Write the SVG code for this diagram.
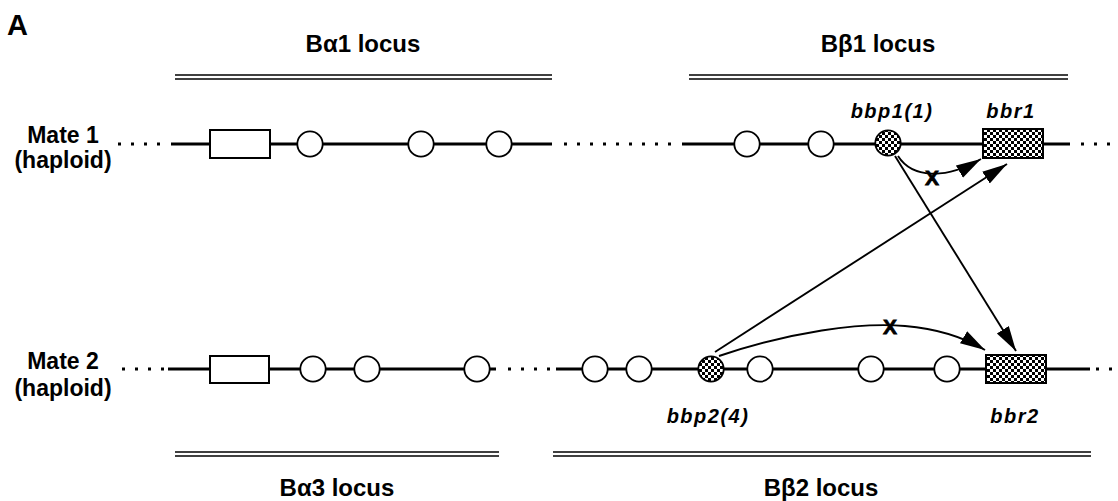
<svg xmlns="http://www.w3.org/2000/svg" width="1118" height="501" viewBox="0 0 1118 501">
<style>
text{font-family:"Liberation Sans",Arial,sans-serif;font-weight:bold;fill:#000}
.lab{font-size:23px;text-anchor:middle}
.loc{font-size:24px;text-anchor:middle}
.gene{font-size:20px;font-style:italic;letter-spacing:1.5px;text-anchor:middle}
.x{font-size:21px;text-anchor:middle;stroke:#000;stroke-width:0.8}
.chrom{stroke:#000;stroke-width:2.8;fill:none}
.dots{stroke:#000;stroke-width:3;stroke-dasharray:3 10;fill:none}
.dbl{stroke:#000;stroke-width:1.6;fill:none}
.box{fill:#fff;stroke:#000;stroke-width:2}
.cbox{fill:url(#chk);stroke:#000;stroke-width:2}
.circ{fill:#fff;stroke:#000;stroke-width:1.8}
.ccirc{fill:url(#chk);stroke:#000;stroke-width:1.8}
.arr{stroke:#000;stroke-width:1.9;fill:none;marker-end:url(#ah)}
</style>
<defs>
<pattern id="chk" width="6" height="6" patternUnits="userSpaceOnUse">
<rect width="6" height="6" fill="#fff"/>
<rect width="3" height="3" fill="#000"/>
<rect x="3" y="3" width="3" height="3" fill="#000"/>
</pattern>
<marker id="ah" markerUnits="userSpaceOnUse" markerWidth="28" markerHeight="16" refX="25" refY="7" orient="auto">
<path d="M0,0 L25,7 L0,14 Z" fill="#000"/>
</marker>
</defs>
<rect width="1118" height="501" fill="#fff"/>
<text x="7" y="35" style="font-size:29px">A</text>
<g id="locus-ba1">
<text class="loc" x="363" y="52">Bα1 locus</text>
<line class="dbl" x1="175" y1="75" x2="552" y2="75"/>
<line class="dbl" x1="175" y1="79" x2="552" y2="79"/>
</g>
<g id="locus-bb1">
<text class="loc" x="878" y="52">Bβ1 locus</text>
<line class="dbl" x1="689" y1="75" x2="1068" y2="75"/>
<line class="dbl" x1="689" y1="79" x2="1068" y2="79"/>
</g>
<g id="locus-ba3">
<line class="dbl" x1="175" y1="452" x2="499" y2="452"/>
<line class="dbl" x1="175" y1="456" x2="499" y2="456"/>
<text class="loc" x="337" y="496">Bα3 locus</text>
</g>
<g id="locus-bb2">
<line class="dbl" x1="553" y1="452" x2="1091" y2="452"/>
<line class="dbl" x1="553" y1="456" x2="1091" y2="456"/>
<text class="loc" x="821" y="496">Bβ2 locus</text>
</g>
<g id="mate1">
<text class="lab" x="63" y="143">Mate 1</text>
<text class="lab" x="63" y="168">(haploid)</text>
<line class="dots" x1="118" y1="144" x2="162" y2="144"/>
<line class="chrom" x1="171" y1="144" x2="552" y2="144"/>
<line class="dots" x1="564" y1="144" x2="676" y2="144"/>
<line class="chrom" x1="682" y1="144" x2="1070" y2="144"/>
<line class="dots" x1="1081" y1="144" x2="1118" y2="144"/>
<rect class="box" x="210" y="130" width="60" height="28"/>
<circle class="circ" cx="310" cy="144" r="12.7"/>
<circle class="circ" cx="421" cy="144" r="12.7"/>
<circle class="circ" cx="499" cy="144" r="12.7"/>
<circle class="circ" cx="747" cy="144" r="12.7"/>
<circle class="circ" cx="821" cy="144" r="12.7"/>
</g>
<g id="bbp1">
<circle class="ccirc" cx="888" cy="143" r="12.7"/>
<text class="gene" x="892" y="118">bbp1(1)</text>
</g>
<g id="bbr1">
<rect class="cbox" x="983" y="129" width="60" height="29"/>
<text class="gene" x="1011" y="118">bbr1</text>
</g>
<g id="mate2">
<text class="lab" x="63" y="369">Mate 2</text>
<text class="lab" x="63" y="396">(haploid)</text>
<line class="dots" x1="122" y1="369" x2="164" y2="369"/>
<line class="chrom" x1="168" y1="369" x2="496" y2="369"/>
<line class="dots" x1="508" y1="369" x2="553" y2="369"/>
<line class="chrom" x1="556" y1="369" x2="1090" y2="369"/>
<line class="dots" x1="1096" y1="369" x2="1118" y2="369"/>
<rect class="box" x="210" y="356" width="59" height="27"/>
<circle class="circ" cx="313" cy="369" r="12.7"/>
<circle class="circ" cx="367" cy="369" r="12.7"/>
<circle class="circ" cx="477" cy="369" r="12.7"/>
<circle class="circ" cx="595" cy="369" r="12.7"/>
<circle class="circ" cx="639" cy="369" r="12.7"/>
<circle class="circ" cx="760" cy="369" r="12.7"/>
<circle class="circ" cx="871" cy="369" r="12.7"/>
<circle class="circ" cx="947" cy="369" r="12.7"/>
</g>
<g id="bbp2">
<circle class="ccirc" cx="711" cy="369" r="12.7"/>
<text class="gene" x="708" y="423">bbp2(4)</text>
</g>
<g id="bbr2">
<rect class="cbox" x="986" y="355" width="60" height="28"/>
<text class="gene" x="1015" y="423">bbr2</text>
</g>
<g id="connectors">
<path class="arr" d="M898,156 C912,178 945,180 981,159"/>
<text class="x" x="932" y="185">X</text>
<line class="arr" x1="715" y1="352" x2="1007" y2="164"/>
<line class="arr" x1="895" y1="156" x2="1016" y2="351"/>
<path class="arr" d="M719,356 C790,332 860,322 905,326 C940,329 965,338 985,350"/>
<text class="x" x="890" y="334">X</text>
</g>
</svg>
